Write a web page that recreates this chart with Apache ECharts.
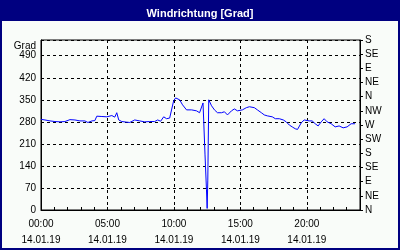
<!DOCTYPE html>
<html><head><meta charset="utf-8">
<script src="https://cdn.jsdelivr.net/npm/echarts@6/dist/echarts.min.js"></script>
<style>html,body{margin:0;padding:0;background:#000080}#c{width:400px;height:250px}</style>
</head><body><div id="c"></div>
<script>
const chartTitle = 'Windrichtung [Grad]';
const unitLabel = 'Grad';
const dateLabel = '14.01.19';
const compassLabels = ['N','NE','E','SE','S','SW','W','NW','N','NE','E','SE','S'];
const timeHours = [0.00,0.30,0.68,1.05,1.43,1.80,2.18,2.55,2.93,3.30,3.53,3.83,4.05,4.20,4.58,4.95,5.33,5.55,5.70,5.85,6.08,6.45,6.68,7.05,7.43,7.80,8.18,8.55,8.78,9.00,9.23,9.45,9.68,9.83,9.98,10.13,10.28,10.43,10.65,10.95,11.33,11.70,11.93,12.08,12.19,12.34,12.45,12.50,12.55,12.62,12.70,12.83,13.05,13.28,13.58,13.80,14.03,14.33,14.55,14.78,14.93,15.15,15.45,15.68,16.05,16.28,16.58,16.80,17.03,17.18,17.40,17.63,17.93,18.23,18.45,18.68,18.90,19.13,19.30,19.43,19.58,19.80,19.95,20.18,20.40,20.63,20.85,21.08,21.30,21.53,21.83,22.13,22.43,22.73,23.03,23.33,23.63];
const directionValues = [288,286,283,281,280,281,287,286,283,283,278,283,284,298,297,296,300,295,309,286,281,279,278,286,283,280,281,281,286,282,296,290,292,296,347,356,355,350,334,318,318,315,309,305,340,175,64,5,95,350,348,331,318,309,309,312,302,315,321,315,312,318,325,328,325,318,309,302,299,302,296,290,290,286,280,270,264,258,256,261,277,286,286,283,283,274,267,280,290,280,274,264,267,261,264,274,274];

function fmtHour(v){ const h = Math.round(v); return (h<10?'0':'')+h+':00'; }
const seriesData = timeHours.map((t,i)=>[t, directionValues[i]]);
const font = 'Liberation Sans';
const chart = echarts.init(document.getElementById('c'));
chart.setOption({
  backgroundColor: '#000080',
  animation: false,
  textStyle: {fontFamily: font},
  title: {text: chartTitle, left: 'center', top: 3, textStyle: {color:'#fff', fontWeight:'bold', fontSize: 11, fontFamily: font}},
  graphic: [{type:'rect', shape:{x:2, y:21, width:396, height:227}, style:{fill:'#f9fcf9'}, z:-10, silent:true}],
  grid: {left: 41, right: 40, top: 40, bottom: 40, show: true, borderColor:'#000', borderWidth:1, backgroundColor:'transparent'},
  xAxis: {
    type: 'value', min: 0, max: 24, interval: 5,
    axisLine: {lineStyle:{color:'#000', width:1}},
    axisTick: {show:true, inside:true, length:3, lineStyle:{color:'#000'}},
    minorTick: {show:true, splitNumber:5, length:3, lineStyle:{color:'#000'}},
    splitLine: {show:true, lineStyle:{color:'#000', type:[3,3], width:1}},
    axisLabel: {color:'#000', fontSize:10, lineHeight:16, margin:6,
      formatter: v => (v % 5 === 0) ? fmtHour(v) + '\n' + dateLabel : ''}
  },
  yAxis: [{
    type: 'value', min: 0, max: 540, interval: 70, position:'left',
    name: unitLabel, nameLocation:'end', nameGap: -6,
    nameTextStyle: {color:'#000', fontSize:10, align:'right', verticalAlign:'middle', padding:[0,5,0,0]},
    axisLine: {show:true, lineStyle:{color:'#000'}},
    axisTick: {show:false},
    splitLine: {show:true, lineStyle:{color:'#000', type:[3,3], width:1}},
    axisLabel: {color:'#000', fontSize:10, margin:5, formatter: v => v === 540 ? '' : String(v)}
  },{
    type: 'value', min: 0, max: 540, interval: 45, position:'right',
    axisLine: {show:true, lineStyle:{color:'#000'}},
    axisTick: {show:true, length:3, lineStyle:{color:'#000'}},
    splitLine: {show:false},
    axisLabel: {color:'#000', fontSize:10, margin:5, formatter: v => compassLabels[Math.round(v/45)] || ''}
  }],
  series: [{
    type:'line', data: seriesData, yAxisIndex:0, showSymbol:false, symbol:'none',
    lineStyle:{color:'#0000ff', width:1}, itemStyle:{color:'#0000ff'}
  }]
});
</script></body></html>
